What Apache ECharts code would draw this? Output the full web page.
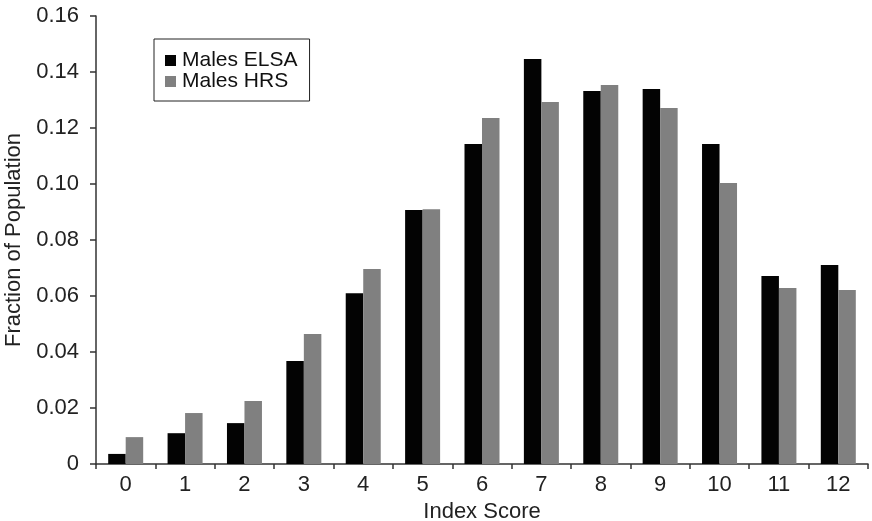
<!DOCTYPE html>
<html>
<head>
<meta charset="utf-8">
<script src="https://cdn.jsdelivr.net/npm/echarts@6/dist/echarts.min.js"></script>
<style>
html,body{margin:0;padding:0;background:#fff;}
#chart{width:872px;height:521px;}
</style>
</head>
<body>
<div id="chart"></div>
<script>
var categories = ['0','1','2','3','4','5','6','7','8','9','10','11','12'];
var malesELSA = [0.0036, 0.0110, 0.0146, 0.0368, 0.0610, 0.0907, 0.1143, 0.1446, 0.1332, 0.1339, 0.1143, 0.0671, 0.0711];
var malesHRS  = [0.0096, 0.0182, 0.0225, 0.0464, 0.0696, 0.0910, 0.1236, 0.1293, 0.1354, 0.1271, 0.1004, 0.0629, 0.0621];
var yTicks = ['0','0.02','0.04','0.06','0.08','0.10','0.12','0.14','0.16'];

var FONT = '"Liberation Sans", Arial, Helvetica, sans-serif';
var chart = echarts.init(document.getElementById('chart'));
chart.setOption({
  animation: false,
  backgroundColor: '#fff',
  grid: {left: 96, right: 4, top: 16, bottom: 57, containLabel: false, outerBoundsMode: 'none'},
  legend: {
    orient: 'vertical',
    left: 154, top: 39,
    padding: [11, 12, 9, 11],
    itemWidth: 11, itemHeight: 11, itemGap: 0,
    borderColor: '#222', borderWidth: 1,
    icon: 'rect',
    textStyle: {fontFamily: FONT, fontSize: 21, color: '#111', padding: [0,0,0,1]},
    data: ['Males ELSA', 'Males HRS']
  },
  xAxis: {
    type: 'category',
    data: categories,
    boundaryGap: true,
    name: 'Index Score',
    nameLocation: 'middle',
    nameGap: 36,
    nameTextStyle: {fontFamily: FONT, fontSize: 22, color: '#222'},
    axisLine: {lineStyle: {color: '#333', width: 1.5}},
    axisTick: {show: true, length: 5, inside: false, alignWithLabel: false, lineStyle: {color: '#333', width: 1.5}},
    axisLabel: {fontFamily: FONT, fontSize: 22, color: '#222', margin: 10},
    splitLine: {show: false}
  },
  yAxis: {
    type: 'value',
    min: 0, max: 0.16, interval: 0.02,
    name: 'Fraction of Population',
    nameLocation: 'middle',
    nameGap: 70,
    nameTextStyle: {fontFamily: FONT, fontSize: 22, color: '#222'},
    axisLine: {show: true, lineStyle: {color: '#333', width: 1.5}},
    axisTick: {show: true, length: 6, lineStyle: {color: '#333', width: 1.5}},
    axisLabel: {
      fontFamily: FONT, fontSize: 22, color: '#222', margin: 17,
      formatter: function (v) { return yTicks[Math.round(v / 0.02)]; }
    },
    splitLine: {show: false}
  },
  series: [
    {name: 'Males ELSA', type: 'bar', data: malesELSA, barWidth: 17.5, barGap: '0%', itemStyle: {color: '#030303'}},
    {name: 'Males HRS', type: 'bar', data: malesHRS, barWidth: 17.5, barGap: '0%', itemStyle: {color: '#808080'}}
  ]
});
</script>
</body>
</html>
